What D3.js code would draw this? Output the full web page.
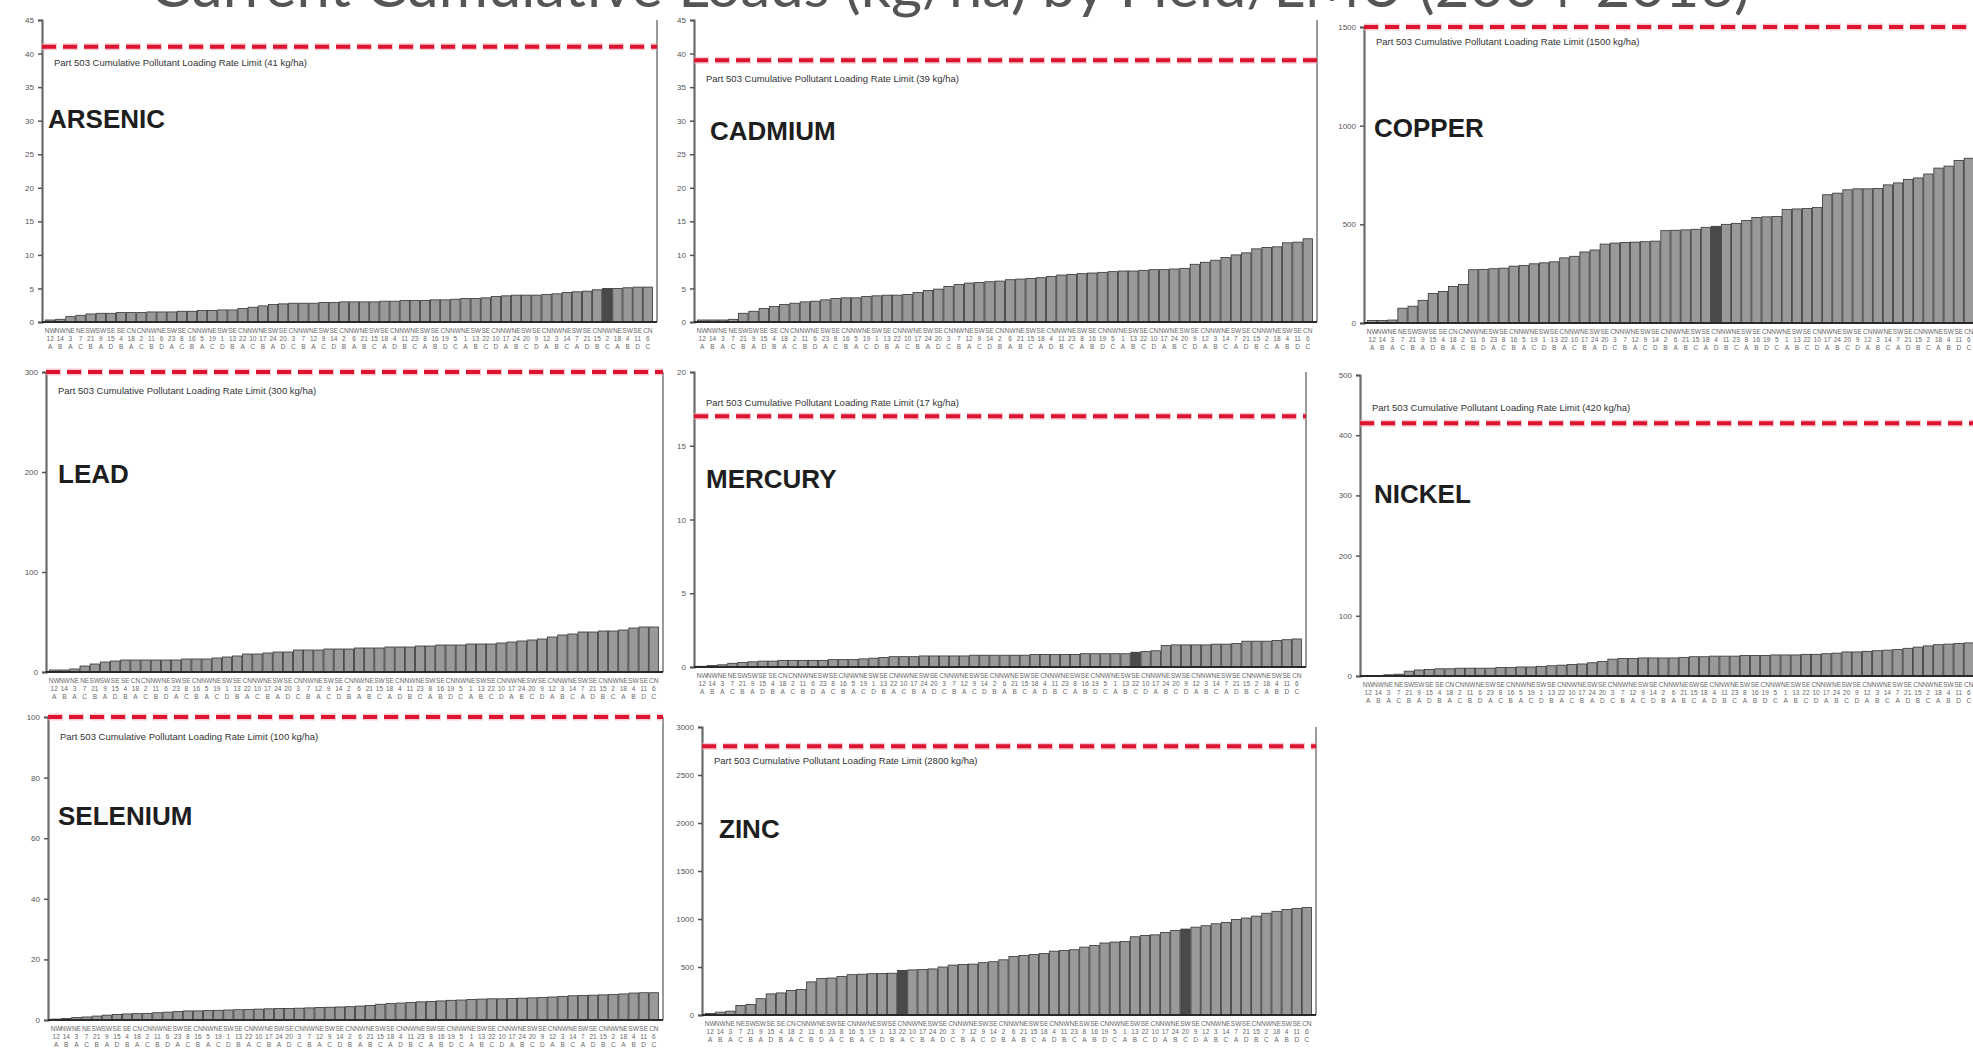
<!DOCTYPE html>
<html>
<head>
<meta charset="utf-8">
<script src="https://cdn.jsdelivr.net/npm/d3@7"></script>
<style>
  html, body { margin: 0; padding: 0; background: #fff; overflow: hidden; }
  svg { display: block; font-family: "Liberation Sans", Arial, sans-serif; }
</style>
</head>
<body>
<svg id="chart" width="1973" height="1061"></svg>
<script>
// data ----------------------------------------------------------------
var title = "Current Cumulative Loads (kg/ha) by Field/LMU (2004-2016)";

var elements = ["ARSENIC", "CADMIUM", "COPPER", "LEAD", "MERCURY", "NICKEL", "SELENIUM", "ZINC"];
var limits = [41, 39, 1500, 300, 17, 420, 100, 2800];
var yMax = [45, 45, 1500, 300, 20, 500, 100, 3000];
var yStep = [5, 5, 500, 100, 5, 100, 20, 500];

var arsenic = [0.3, 0.4, 0.8, 1.0, 1.2, 1.3, 1.3, 1.4, 1.4, 1.4, 1.5, 1.5, 1.5, 1.6, 1.6, 1.7, 1.7, 1.8, 1.8, 2.0,
  2.2, 2.4, 2.6, 2.7, 2.8, 2.8, 2.8, 2.9, 2.9, 3.0, 3.0, 3.0, 3.0, 3.1, 3.1, 3.2, 3.2, 3.2, 3.3, 3.3,
  3.4, 3.5, 3.5, 3.6, 3.8, 3.9, 4.0, 4.0, 4.0, 4.1, 4.2, 4.4, 4.5, 4.6, 4.8, 5.0, 5.0, 5.1, 5.2, 5.2];
var cadmium = [0.3, 0.3, 0.3, 0.4, 1.3, 1.6, 2.0, 2.3, 2.6, 2.8, 3.0, 3.1, 3.3, 3.5, 3.6, 3.6, 3.8, 3.9, 4.0, 4.0,
  4.1, 4.4, 4.7, 4.9, 5.3, 5.6, 5.8, 5.9, 6.0, 6.1, 6.3, 6.4, 6.5, 6.6, 6.8, 7.0, 7.1, 7.2, 7.3, 7.4,
  7.5, 7.6, 7.6, 7.7, 7.8, 7.8, 7.9, 8.0, 8.6, 8.9, 9.2, 9.6, 10.0, 10.3, 10.9, 11.1, 11.2, 11.8, 11.9, 12.4];
var copper = [13, 13, 15, 75, 85, 115, 150, 160, 185, 195, 270, 272, 275, 278, 288, 292, 300, 305, 310, 330,
  338, 360, 370, 400, 405, 408, 410, 412, 415, 468, 470, 472, 475, 485, 490, 500, 505, 520, 535, 538,
  540, 575, 578, 580, 585, 650, 658, 675, 680, 680, 682, 700, 710, 728, 735, 755, 785, 795, 824, 835];
var lead = [2, 2, 3, 6, 8, 10, 11, 12, 12, 12, 12, 12, 12, 13, 13, 13, 14, 15, 16, 18,
  18, 19, 20, 20, 22, 22, 22, 23, 23, 23, 24, 24, 24, 25, 25, 25, 26, 26, 27, 27,
  27, 28, 28, 28, 29, 30, 31, 32, 33, 35, 37, 38, 40, 40, 41, 41, 42, 44, 45, 45];
var mercury = [0.05, 0.1, 0.15, 0.25, 0.3, 0.35, 0.4, 0.4, 0.45, 0.45, 0.45, 0.45, 0.45, 0.5, 0.5, 0.5, 0.55, 0.6, 0.65, 0.7,
  0.7, 0.7, 0.75, 0.75, 0.75, 0.75, 0.75, 0.8, 0.8, 0.8, 0.8, 0.8, 0.8, 0.85, 0.85, 0.85, 0.85, 0.85, 0.9, 0.9,
  0.9, 0.9, 0.9, 1.0, 1.05, 1.1, 1.45, 1.5, 1.5, 1.5, 1.5, 1.55, 1.55, 1.6, 1.75, 1.75, 1.75, 1.8, 1.85, 1.9];
var nickel = [1, 1, 2, 3, 8, 10, 11, 12, 12, 13, 13, 13, 13, 14, 14, 15, 15, 16, 17, 18,
  19, 20, 22, 24, 28, 29, 29, 30, 30, 30, 30, 31, 32, 32, 33, 33, 33, 34, 34, 34,
  35, 35, 35, 36, 36, 37, 38, 40, 40, 41, 42, 43, 44, 46, 48, 50, 52, 53, 54, 55];
var selenium = [0.3, 0.5, 0.8, 1.0, 1.3, 1.6, 1.8, 2.0, 2.1, 2.2, 2.4, 2.6, 2.8, 3.0, 3.0, 3.1, 3.2, 3.3, 3.4, 3.5,
  3.6, 3.7, 3.8, 3.8, 3.9, 4.0, 4.1, 4.2, 4.3, 4.4, 4.6, 4.8, 5.2, 5.4, 5.6, 5.8, 6.0, 6.1, 6.3, 6.5,
  6.6, 6.8, 6.9, 7.0, 7.0, 7.1, 7.2, 7.3, 7.4, 7.6, 7.8, 8.0, 8.1, 8.2, 8.3, 8.4, 8.6, 8.9, 9.0, 9.0];
var zinc = [15, 30, 40, 100, 110, 170, 220, 230, 255, 265, 345, 380, 385, 400, 420, 425, 430, 432, 435, 465,
  470, 475, 480, 500, 520, 525, 530, 545, 555, 575, 610, 620, 630, 640, 665, 672, 680, 707, 725, 750,
  760, 765, 815, 828, 835, 860, 880, 895, 915, 930, 950, 965, 995, 1010, 1030, 1060, 1080, 1100, 1110, 1120];

var series = [arsenic, cadmium, copper, lead, mercury, nickel, selenium, zinc];

// bars drawn darker in the original
var darkBars = [[55], [], [34], [], [43], [], [], [19, 47]];

// field / LMU / block labels under each bar
var farms = ["NW", "NW", "NE", "NE", "SW", "SW", "SE", "SE", "CN", "CN", "NW", "NE", "SW", "SE", "CN",
  "NW", "NE", "SW", "SE", "CN", "NW", "NE", "SW", "SE", "CN", "NW", "NE", "SW", "SE", "CN",
  "NW", "NE", "SW", "SE", "CN", "NW", "NE", "SW", "SE", "CN", "NW", "NE", "SW", "SE", "CN",
  "NW", "NE", "SW", "SE", "CN", "NW", "NE", "SW", "SE", "CN", "NW", "NE", "SW", "SE", "CN"];
var fields = ["12", "14", "3", "7", "21", "9", "15", "4", "18", "2", "11", "6", "23", "8", "16",
  "5", "19", "1", "13", "22", "10", "17", "24", "20", "3", "7", "12", "9", "14", "2",
  "6", "21", "15", "18", "4", "11", "23", "8", "16", "19", "5", "1", "13", "22", "10",
  "17", "24", "20", "9", "12", "3", "14", "7", "21", "15", "2", "18", "4", "11", "6"];
var lmus = ["A", "B", "A", "C", "B", "A", "D", "B", "A", "C", "B", "D", "A", "C", "B",
  "A", "C", "D", "B", "A", "C", "B", "A", "D", "C", "B", "A", "C", "D", "B",
  "A", "B", "C", "A", "D", "B", "C", "A", "B", "D", "C", "A", "B", "C", "D",
  "A", "B", "C", "D", "A", "B", "C", "A", "D", "B", "C", "A", "B", "D", "C"];

// layout --------------------------------------------------------------
var layout = [
  { x0: 42,   x1: 657,  top: 20,  bottom: 322,  nameX: 48,   nameY: 128, noteDy: 19 },
  { x0: 694,  x1: 1317, top: 20,  bottom: 322,  nameX: 710,  nameY: 140, noteDy: 22 },
  { x0: 1364, x1: 1978, top: 27,  bottom: 323,  nameX: 1374, nameY: 137, noteDy: 18 },
  { x0: 46,   x1: 663,  top: 372, bottom: 672,  nameX: 58,   nameY: 483, noteDy: 22 },
  { x0: 694,  x1: 1306, top: 372, bottom: 667,  nameX: 706,  nameY: 488, noteDy: -10 },
  { x0: 1360, x1: 1978, top: 375, bottom: 676,  nameX: 1374, nameY: 503, noteDy: -12 },
  { x0: 48,   x1: 663,  top: 717, bottom: 1020, nameX: 58,   nameY: 825, noteDy: 23 },
  { x0: 702,  x1: 1316, top: 727, bottom: 1015, nameX: 719,  nameY: 838, noteDy: 18 }
];

var svg = d3.select("#chart");

// title, only the lower part shows at the top edge (as in the source slide)
svg.append("text")
  .attr("x", 950)
  .attr("y", 7)
  .attr("text-anchor", "middle")
  .attr("textLength", 1600)
  .attr("lengthAdjust", "spacingAndGlyphs")
  .style("font-family", "Lato, 'Open Sans', sans-serif")
  .style("font-size", "58px")
  .style("fill", "#555")
  .text(title);

function panel(i) {
  var L = layout[i];
  var values = series[i];
  var g = svg.append("g");

  var x = d3.scaleBand()
    .domain(d3.range(values.length))
    .range([L.x0 + 3, L.x1 - 4])
    .paddingInner(0.08)
    .paddingOuter(0.05);

  var y = d3.scaleLinear()
    .domain([0, yMax[i]])
    .range([L.bottom, L.top]);

  // right frame
  g.append("line")
    .attr("x1", L.x1).attr("x2", L.x1)
    .attr("y1", L.top).attr("y2", L.bottom)
    .attr("stroke", "#9a9a9a").attr("stroke-width", 2);

  // bars
  g.selectAll("rect.bar")
    .data(values)
    .enter()
    .append("rect")
    .attr("class", "bar")
    .attr("x", (_, j) => x(j))
    .attr("y", d => y(d))
    .attr("width", x.bandwidth())
    .attr("height", d => y(0) - y(d))
    .attr("fill", (_, j) => darkBars[i].indexOf(j) >= 0 ? "#4a4a4a" : "#999999")
    .attr("stroke", "#333")
    .attr("stroke-width", 0.8);

  // y axis
  var yAxis = g.append("g")
    .attr("transform", `translate(${L.x0},0)`)
    .call(d3.axisLeft(y)
      .tickValues(d3.range(0, yMax[i] + 0.001, yStep[i]))
      .tickFormat(d3.format("d"))
      .tickSize(4).tickPadding(4));
  yAxis.select(".domain").attr("stroke", "#6b6b6b").attr("stroke-width", 2.2);
  yAxis.selectAll(".tick line").attr("stroke", "#555").attr("stroke-width", 1.5);
  yAxis.selectAll(".tick text")
    .style("font-size", "8px")
    .style("fill", "#555")
    .style("font-family", "'Liberation Sans', Arial, sans-serif");

  // x axis with three-line category labels
  g.append("line")
    .attr("x1", L.x0).attr("x2", L.x1)
    .attr("y1", L.bottom).attr("y2", L.bottom)
    .attr("stroke", "#2a2a2a").attr("stroke-width", 2);

  var lab = g.selectAll("text.cat")
    .data(values)
    .enter()
    .append("text")
    .attr("class", "cat")
    .attr("text-anchor", "middle")
    .style("font-size", "6.5px")
    .style("fill", "#666");
  lab.append("tspan")
    .attr("x", (_, j) => x(j) + x.bandwidth() / 2)
    .attr("y", L.bottom + 11)
    .text((_, j) => farms[j % farms.length]);
  lab.append("tspan")
    .attr("x", (_, j) => x(j) + x.bandwidth() / 2)
    .attr("y", L.bottom + 19)
    .text((_, j) => fields[j % fields.length]);
  lab.append("tspan")
    .attr("x", (_, j) => x(j) + x.bandwidth() / 2)
    .attr("y", L.bottom + 27)
    .text((_, j) => lmus[j % lmus.length]);

  // Part 503 limit line
  g.append("line")
    .attr("x1", L.x0).attr("x2", L.x1)
    .attr("y1", y(limits[i])).attr("y2", y(limits[i]))
    .attr("stroke", "#f4a7b3").attr("stroke-width", 7)
    .attr("stroke-dasharray", "15 6")
    .attr("opacity", 0.6);
  g.append("line")
    .attr("x1", L.x0).attr("x2", L.x1)
    .attr("y1", y(limits[i])).attr("y2", y(limits[i]))
    .attr("stroke", "#dc1430").attr("stroke-width", 4)
    .attr("stroke-dasharray", "14 7");

  g.append("text")
    .attr("x", L.x0 + 12)
    .attr("y", y(limits[i]) + L.noteDy)
    .style("font-size", "9.5px")
    .style("fill", "#333")
    .text(`Part 503 Cumulative Pollutant Loading Rate Limit (${limits[i]} kg/ha)`);

  // element name
  g.append("text")
    .attr("x", L.nameX)
    .attr("y", L.nameY)
    .style("font-size", "26px")
    .style("font-weight", "bold")
    .style("fill", "#1e1e1e")
    .text(elements[i]);
}

for (let i = 0; i < elements.length; i++) {
  panel(i);
}
</script>
</body>
</html>
